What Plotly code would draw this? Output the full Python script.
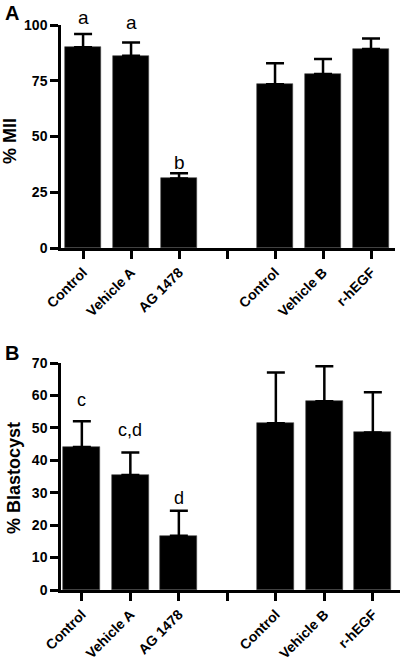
import plotly.graph_objects as go

categories = ["Control", "Vehicle A", "AG 1478", "", "Control", "Vehicle B", "r-hEGF"]
mii_values = [90, 86.2, 31.2, None, 73.4, 78, 89.2]
mii_err = [6, 6, 2.3, None, 9.4, 6.8, 4.8]
mii_letters = ["a", "a", "b", "", "", "", ""]
blast_values = [44.1, 35.5, 16.7, None, 51.4, 58.2, 48.6]
blast_err = [7.9, 6.9, 7.7, None, 15.7, 10.8, 12.4]
blast_letters = ["c", "c,d", "d", "", "", "", ""]
mii_ticks = [0, 25, 50, 75, 100]
blast_ticks = [0, 10, 20, 30, 40, 50, 60, 70]

# pixel lift of each significance letter above its error bar (styling only)
mii_letter_shift = [4, 7, -2, 0, 0, 0, 0]
blast_letter_shift = [9, 11, 1, 0, 0, 0, 0]

FONT = "Liberation Sans, Arial, sans-serif"
W, H = 400, 665
xpos = list(range(len(categories)))

fig = go.Figure()

def add_bars(vals, errs, xa, ya):
    fig.add_trace(go.Bar(
        x=xpos, y=vals, width=0.76, marker=dict(color="black", line=dict(color="#444", width=0.6)),
        error_y=dict(type="data", array=errs, symmetric=False, arrayminus=[0]*len(errs),
                     color="black", thickness=2.5, width=9),
        xaxis=xa, yaxis=ya, showlegend=False, hoverinfo="skip"))

add_bars(mii_values, mii_err, "x", "y")
add_bars(blast_values, blast_err, "x2", "y2")

def py(p):
    return 1 - p / H

axis_common = dict(showline=True, linecolor="black", linewidth=2.5, ticks="outside",
                   tickwidth=2.5, ticklen=8, tickcolor="black", showgrid=False, zeroline=False,
                   automargin=False, ticklabeloverflow="allow",
                   tickfont=dict(family=FONT, size=14, color="black", weight="bold"))

fig.update_layout(
    template="none",
    width=W, height=H, margin=dict(l=0, r=0, t=0, b=0, pad=0), autosize=False,
    plot_bgcolor="white", paper_bgcolor="white", bargap=0,
    xaxis=dict(domain=[61/W, 395/W], range=[-0.46, 6.5], anchor="y",
               tickvals=xpos, ticktext=categories, tickangle=-45, **axis_common),
    yaxis=dict(domain=[py(248), py(25)], range=[0, 100], anchor="x",
               tickvals=mii_ticks, **axis_common),
    xaxis2=dict(domain=[61/W, 1.0], range=[-0.43, 6.56], anchor="y2",
                tickvals=xpos, ticktext=categories, tickangle=-45, **axis_common),
    yaxis2=dict(domain=[py(590), py(363)], range=[0, 70], anchor="x2",
                tickvals=blast_ticks, **axis_common),
)

ann = []
for i, (v, e, t) in enumerate(zip(mii_values, mii_err, mii_letters)):
    if t:
        ann.append(dict(x=i, y=v + e, xref="x", yref="y", text=t, showarrow=False,
                        yanchor="bottom", yshift=mii_letter_shift[i],
                        font=dict(family=FONT, size=19, color="black")))
for i, (v, e, t) in enumerate(zip(blast_values, blast_err, blast_letters)):
    if t:
        ann.append(dict(x=i, y=v + e, xref="x2", yref="y2", text=t, showarrow=False,
                        yanchor="bottom", yshift=blast_letter_shift[i],
                        font=dict(family=FONT, size=18, color="black")))

ann.append(dict(x=3/W, y=py(0), xref="paper", yref="paper", text="A", showarrow=False,
                xanchor="left", yanchor="top", font=dict(family=FONT, size=20, color="black", weight="bold")))
ann.append(dict(x=3/W, y=py(340), xref="paper", yref="paper", text="B", showarrow=False,
                xanchor="left", yanchor="top", font=dict(family=FONT, size=20, color="black", weight="bold")))
ann.append(dict(x=10/W, y=py(141), xref="paper", yref="paper", text="% MII", showarrow=False,
                xanchor="center", yanchor="middle",
                textangle=-90, font=dict(family=FONT, size=18, color="black", weight="bold")))
ann.append(dict(x=14/W, y=py(478), xref="paper", yref="paper", text="% Blastocyst", showarrow=False,
                xanchor="center", yanchor="middle",
                textangle=-90, font=dict(family=FONT, size=18, color="black", weight="bold")))
fig.update_layout(annotations=ann)

fig.write_html("out.html", config={"displayModeBar": False},
               post_script="document.body.style.margin='0';")
